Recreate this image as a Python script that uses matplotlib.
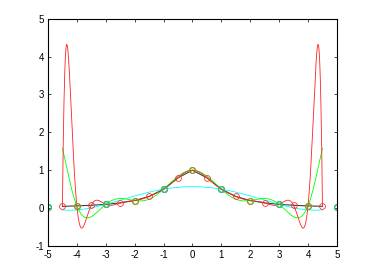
import numpy as np
import matplotlib
matplotlib.use("Agg")
import matplotlib.pyplot as plt

plt.rcParams['font.family'] = ['Liberation Sans', 'DejaVu Sans']
plt.rcParams['axes.unicode_minus'] = False

x_red = [-5.0, -4.5, -4.0, -3.5, -3.0, -2.5, -2.0, -1.5, -1.0, -0.5, 0.0,
         0.5, 1.0, 1.5, 2.0, 2.5, 3.0, 3.5, 4.0, 4.5, 5.0]
y_red = [0.0384615, 0.0470588, 0.0588235, 0.0754717, 0.1000000, 0.1379310,
         0.2000000, 0.3076923, 0.5000000, 0.8000000, 1.0000000, 0.8000000,
         0.5000000, 0.3076923, 0.2000000, 0.1379310, 0.1000000, 0.0754717,
         0.0588235, 0.0470588, 0.0384615]
x_green = [-5.0, -4.0, -3.0, -2.0, -1.0, 0.0, 1.0, 2.0, 3.0, 4.0, 5.0]
y_green = [0.0384615, 0.0588235, 0.1000000, 0.2000000, 0.5000000, 1.0000000,
           0.5000000, 0.2000000, 0.1000000, 0.0588235, 0.0384615]
x_cyan = [-5.0, -3.0, -1.0, 1.0, 3.0, 5.0]
y_cyan = [0.0384615, 0.1000000, 0.5000000, 0.5000000, 0.1000000, 0.0384615]
x_ticks = [-5, -4, -3, -2, -1, 0, 1, 2, 3, 4, 5]
y_ticks = [-1, 0, 1, 2, 3, 4, 5]
x_range = (-4.5, 4.5)


def interp_poly(xn, yn, xs):
    xn = np.asarray(xn, float)
    yn = np.asarray(yn, float)
    w = np.array([1.0 / np.prod(xn[j] - np.delete(xn, j)) for j in range(len(xn))])
    out = np.empty_like(xs)
    for i, x in enumerate(xs):
        d = x - xn
        k = np.where(np.abs(d) < 1e-12)[0]
        if len(k):
            out[i] = yn[k[0]]
        else:
            t = w / d
            out[i] = np.sum(t * yn) / np.sum(t)
    return out


xs = np.linspace(x_range[0], x_range[1], 1801)
xr = np.asarray(x_red)
yr = np.asarray(y_red)
mask = (xr >= x_range[0]) & (xr <= x_range[1])

fig = plt.figure(figsize=(3.69, 2.78), dpi=100)
ax = fig.add_axes([0.13, 0.115, 0.783, 0.818])

ax.plot(xr[mask], yr[mask], color='#404040', lw=0.8)
ax.plot(xs, interp_poly(x_cyan, y_cyan, xs), color='#00ffff', lw=0.6)
ax.plot(xs, interp_poly(x_green, y_green, xs), color='#00ff00', lw=0.6)
ax.plot(xs, interp_poly(x_red, y_red, xs), color='#ff2020', lw=0.6)

ax.plot(x_red, y_red, 'o', mfc='none', mec='#ff3030', ms=4.2, mew=0.6)
ax.plot(x_green, y_green, 'o', mfc='none', mec='#70a818', ms=4.2, mew=0.8)
ax.plot(x_cyan, y_cyan, 'o', mfc='none', mec='#18c898', ms=4.2, mew=0.8)

ax.set_xlim(-5, 5)
ax.set_ylim(-1, 5)
ax.set_xticks(x_ticks)
ax.set_yticks(y_ticks)
ax.tick_params(direction='in', length=2.5, width=0.5, labelsize=7,
               top=True, right=True, pad=3, colors='black')
for s in ax.spines.values():
    s.set_linewidth(0.8)

fig.savefig('out.png', dpi=100)
